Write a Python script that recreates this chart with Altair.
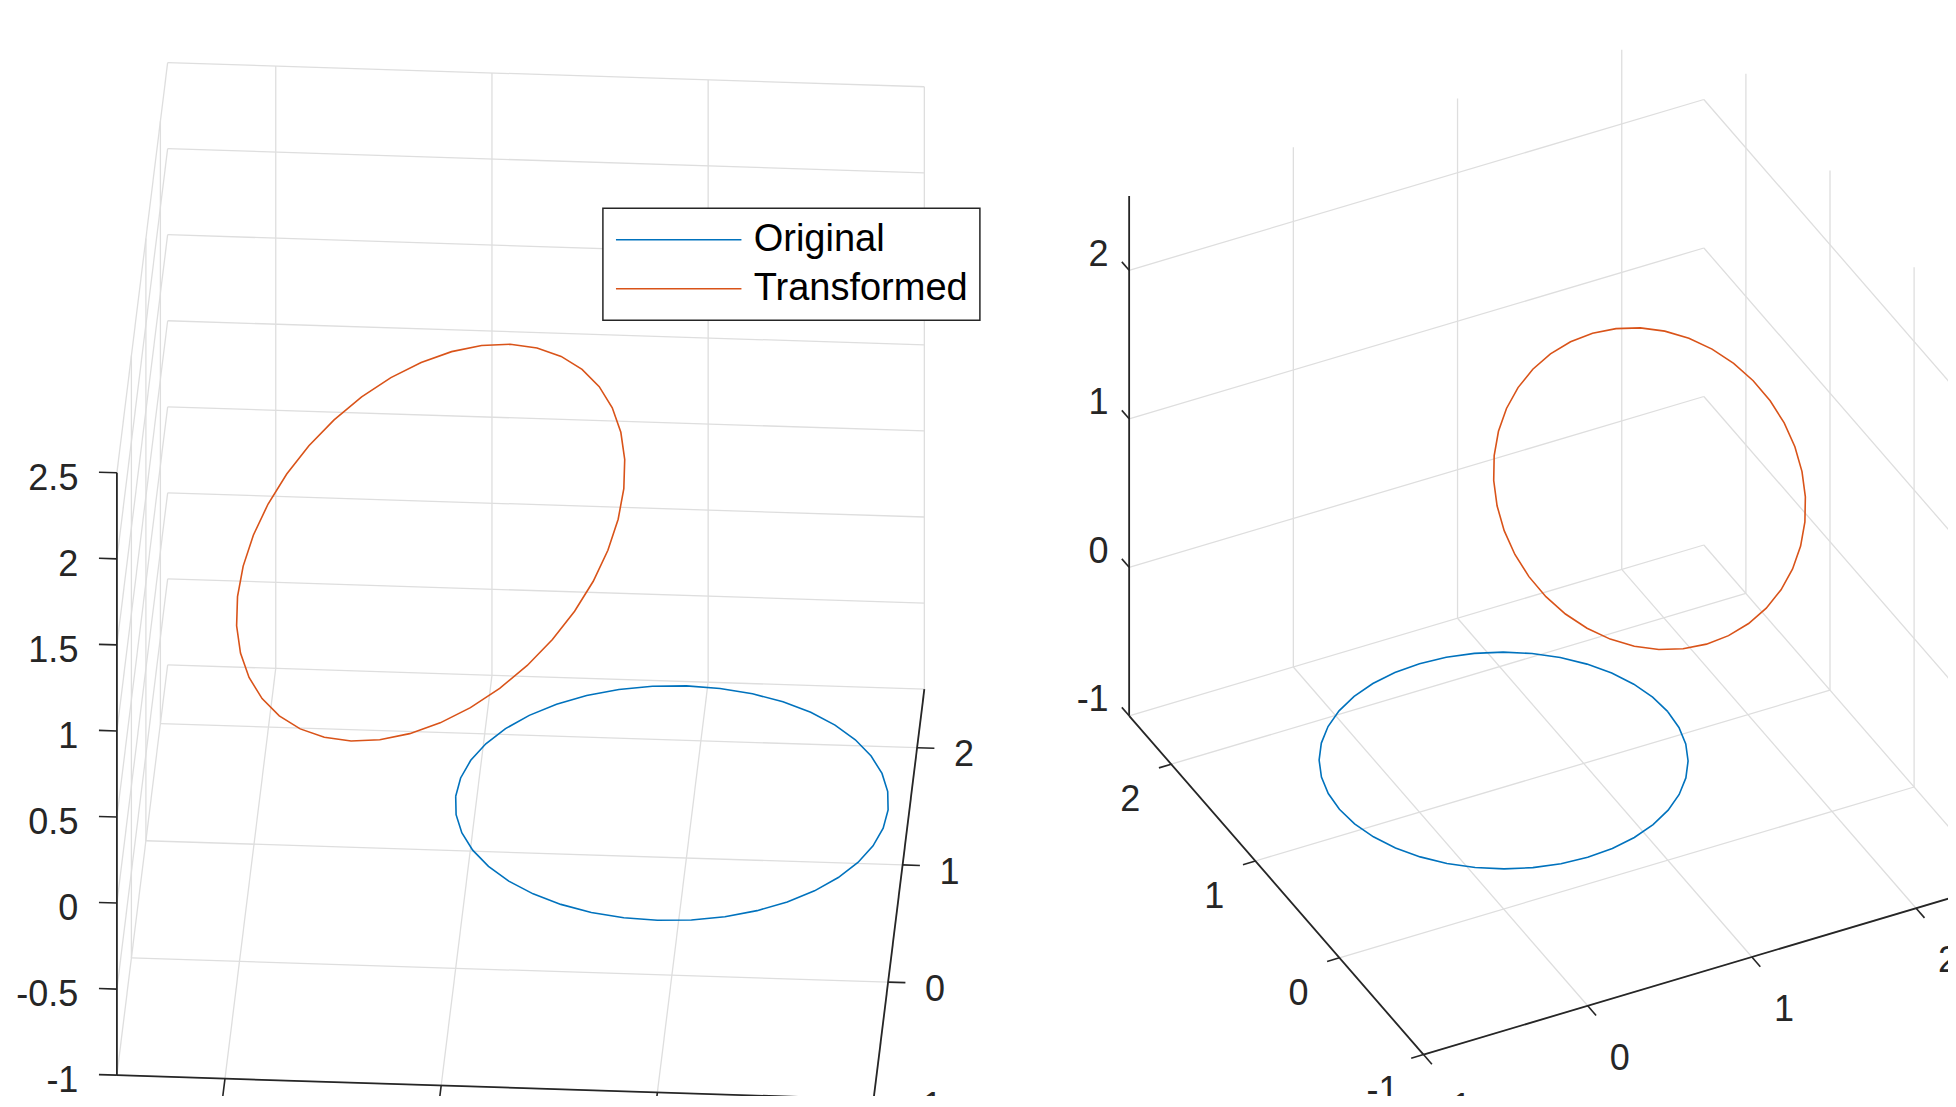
import altair as alt
import pandas as pd

FONT = "Liberation Sans"
TEXT_COLOR = "#262626"
AXIS_COLOR = "#262626"
GRID_COLOR = "#dedede"
FONT_SIZE = 36

# ---------------- data ----------------
LIMITS = [-1.0, 2.5]                      # x, y and z limits of both views
X_TICKS = [-1, 0, 1, 2]
Y_TICKS = [-1, 0, 1, 2]
Z_TICKS_LEFT = [-1, -0.5, 0, 0.5, 1, 1.5, 2, 2.5]
Z_TICKS_RIGHT = [-1, 0, 1, 2]

SERIES = ["Original", "Transformed"]
SERIES_COLORS = ["#0072BD", "#D95319"]

# original curve: unit circle at the origin in the z = 0 plane (40 segments)
ORIG_X = [1.0, 0.9877, 0.9511, 0.8910, 0.8090, 0.7071, 0.5878, 0.4540, 0.3090, 0.1564,
          0.0, -0.1564, -0.3090, -0.4540, -0.5878, -0.7071, -0.8090, -0.8910, -0.9511, -0.9877,
          -1.0, -0.9877, -0.9511, -0.8910, -0.8090, -0.7071, -0.5878, -0.4540, -0.3090, -0.1564,
          0.0, 0.1564, 0.3090, 0.4540, 0.5878, 0.7071, 0.8090, 0.8910, 0.9511, 0.9877, 1.0]
ORIG_Y = [0.0, 0.1564, 0.3090, 0.4540, 0.5878, 0.7071, 0.8090, 0.8910, 0.9511, 0.9877,
          1.0, 0.9877, 0.9511, 0.8910, 0.8090, 0.7071, 0.5878, 0.4540, 0.3090, 0.1564,
          0.0, -0.1564, -0.3090, -0.4540, -0.5878, -0.7071, -0.8090, -0.8910, -0.9511, -0.9877,
          -1.0, -0.9877, -0.9511, -0.8910, -0.8090, -0.7071, -0.5878, -0.4540, -0.3090, -0.1564, 0.0]
ORIG_Z = [0.0] * 41

# linear transformation applied to the original curve
TRANSFORM = [[0.885, 0.103, 0.166],
             [-0.125, 0.091, 0.982],
             [-0.264, -1.176, 0.091]]
TRANSLATION = [1.15, 0.51, 1.12]

# ---------------- camera of each subplot (screen vectors of the unit axes) ----------------
VIEWS = {
    "left": {"origin": (671.9, 803.1), "ex": (-216.2, -6.9), "ey": (14.5, -117.2), "ez": (0.0, -172.1),
             "z_ticks": Z_TICKS_LEFT,
             "z_axis_at": (LIMITS[1], LIMITS[0]),
             "tick_dir": {"x": (0, -0.15, 0), "y": (-0.08, 0, 0), "z": (0.083, 0, 0)},
             # x tick labels of this view fall below the bottom of the figure
             "label": {"y": ("left", 37, 18.7), "z": ("right", -38.5, 16.7)}},
    "right": {"origin": (1503.6, 760.5), "ex": (164.2, -48.8), "ey": (-84.1, -96.8), "ez": (0.0, -148.5),
              "z_ticks": Z_TICKS_RIGHT,
              "z_axis_at": (LIMITS[0], LIMITS[1]),
              "tick_dir": {"x": (0, -0.1, 0), "y": (-0.075, 0, 0), "z": (0, 0.087, 0)},
              "label": {"x": ("center", 32, 64.2), "y": ("center", -41, 47.2), "z": ("right", -20.5, -4.8)}},
}


def project(view, p):
    ox, oy = view["origin"]
    ex, ey, ez = view["ex"], view["ey"], view["ez"]
    return (ox + p[0] * ex[0] + p[1] * ey[0] + p[2] * ez[0],
            oy + p[0] * ex[1] + p[1] * ey[1] + p[2] * ez[1])


lo, hi = LIMITS
grid_rows, axis_rows, tick_rows, label_rows, curve_rows = [], [], [], [], []


def add_seg(rows, view, a, b, panel):
    (x1, y1), (x2, y2) = project(view, a), project(view, b)
    rows.append({"x": x1, "y": y1, "x2": x2, "y2": y2, "panel": panel})


def fmt(v):
    return f"{v:g}"


for panel, v in VIEWS.items():
    zt = v["z_ticks"]
    # grid on the three back planes: y = hi, x = hi, z = lo
    for x in X_TICKS:
        add_seg(grid_rows, v, (x, hi, lo), (x, hi, hi), panel)
        add_seg(grid_rows, v, (x, lo, lo), (x, hi, lo), panel)
    for z in zt:
        add_seg(grid_rows, v, (lo, hi, z), (hi, hi, z), panel)
        add_seg(grid_rows, v, (hi, lo, z), (hi, hi, z), panel)
    for y in Y_TICKS:
        add_seg(grid_rows, v, (hi, y, lo), (hi, y, hi), panel)
        add_seg(grid_rows, v, (lo, y, lo), (hi, y, lo), panel)

    zx, zy = v["z_axis_at"]
    # axis lines
    add_seg(axis_rows, v, (lo, lo, lo), (hi, lo, lo), panel)
    add_seg(axis_rows, v, (lo, lo, lo), (lo, hi, lo), panel)
    add_seg(axis_rows, v, (zx, zy, lo), (zx, zy, hi), panel)

    bases = {"x": [((t, lo, lo), t) for t in X_TICKS],
             "y": [((lo, t, lo), t) for t in Y_TICKS],
             "z": [((zx, zy, t), t) for t in zt]}
    for ax, items in bases.items():
        d = v["tick_dir"][ax]
        for base, t in items:
            end = (base[0] + d[0], base[1] + d[1], base[2] + d[2])
            add_seg(tick_rows, v, base, end, panel)
            if ax in v["label"]:
                align, dx, dy = v["label"][ax]
                bx, by = project(v, base)
                label_rows.append({"x": bx + dx, "y": by + dy, "label": fmt(t), "align": align})

    # curves
    for s in SERIES:
        for i in range(len(ORIG_X)):
            p = (ORIG_X[i], ORIG_Y[i], ORIG_Z[i])
            if s == "Transformed":
                p = tuple(sum(TRANSFORM[r][c] * p[c] for c in range(3)) + TRANSLATION[r] for r in range(3))
            sx, sy = project(v, p)
            curve_rows.append({"x": sx, "y": sy, "series": s, "key": panel + s, "i": i})

grid_df = pd.DataFrame(grid_rows)
axis_df = pd.DataFrame(axis_rows)
tick_df = pd.DataFrame(tick_rows)
label_df = pd.DataFrame(label_rows)
curve_df = pd.DataFrame(curve_rows)

# ---------------- chart ----------------
W, H = 1940, 1088
X0, Y0 = 8, 8
xs = alt.Scale(domain=[X0, X0 + W], nice=False, zero=False)
ys = alt.Scale(domain=[Y0, Y0 + H], nice=False, zero=False, reverse=True)
X = alt.X("x:Q", scale=xs, axis=None)
Y = alt.Y("y:Q", scale=ys, axis=None)

grid = alt.Chart(grid_df).mark_rule(color=GRID_COLOR, strokeWidth=1.3, clip=True).encode(
    x=X, y=Y, x2=alt.X2("x2"), y2=alt.Y2("y2"))
axes = alt.Chart(axis_df).mark_rule(color=AXIS_COLOR, strokeWidth=1.8, clip=True).encode(
    x=X, y=Y, x2=alt.X2("x2"), y2=alt.Y2("y2"))
ticks = alt.Chart(tick_df).mark_rule(color=AXIS_COLOR, strokeWidth=1.6, clip=True).encode(
    x=X, y=Y, x2=alt.X2("x2"), y2=alt.Y2("y2"))

legend = alt.Legend(orient="none", legendX=594.9, legendY=200.3, title=None,
                    symbolType="M-3.4,0H3.4", symbolSize=1362, symbolStrokeWidth=1.6,
                    symbolOffset=44.3, labelOffset=55.5, labelFontSize=38, labelFont=FONT,
                    labelColor="#000000", labelLimit=600, padding=12, rowPadding=10,
                    fillColor="#ffffff", strokeColor="#262626")

curves = alt.Chart(curve_df).mark_line(strokeWidth=1.6, clip=True).encode(
    x=X, y=Y, detail="key:N", order="i:Q",
    color=alt.Color("series:N", scale=alt.Scale(domain=SERIES, range=SERIES_COLORS), legend=legend))

texts = []
for a in ["left", "center", "right"]:
    sub = label_df[label_df["align"] == a]
    if len(sub):
        texts.append(alt.Chart(sub).mark_text(align=a, baseline="alphabetic", font=FONT,
                                              fontSize=FONT_SIZE, color=TEXT_COLOR, clip=True).encode(
            x=X, y=Y, text="label:N"))

chart = alt.layer(grid, axes, ticks, curves, *texts).properties(
    width=W, height=H, padding=0, autosize=alt.AutoSizeParams(type="none")
).configure_view(stroke=None).configure_legend(strokeWidth=1.5)

chart.save("out.html", embed_options={"renderer": "svg", "actions": False})
